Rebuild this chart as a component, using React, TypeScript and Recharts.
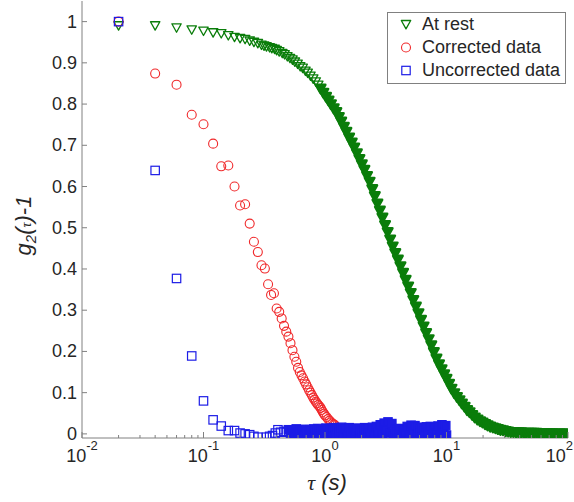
import React from 'react';
import { ScatterChart, Scatter, XAxis, YAxis, Legend } from 'recharts';

// tau (s) and g2(tau)-1
const greenTau = [
  0.02, 0.04, 0.06, 0.08, 0.1, 0.12, 0.14, 0.16, 0.18, 0.2, 0.22, 0.24, 0.26, 0.28,
  0.3, 0.315, 0.33, 0.35, 0.365, 0.385, 0.4, 0.42, 0.445, 0.465,
  0.49, 0.515, 0.54, 0.565, 0.595, 0.625, 0.655, 0.69, 0.72, 0.76,
  0.8, 0.84, 0.88, 0.92, 0.97, 1.02, 1.07, 1.12, 1.18, 1.24,
  1.3, 1.36, 1.43, 1.5, 1.58, 1.66, 1.74, 1.83, 1.92, 2.01,
  2.11, 2.22, 2.33, 2.45, 2.57, 2.7, 2.83, 2.97, 3.12, 3.28,
  3.44, 3.61, 3.79, 3.98, 4.18, 4.39, 4.61, 4.84, 5.08, 5.33,
  5.6, 5.88, 6.17, 6.48, 6.8, 7.14, 7.5, 7.87, 8.27, 8.68,
  9.11, 9.57, 10.0, 10.5, 11.0, 11.6, 12.2, 12.8, 13.4, 14.1,
  14.8, 15.5, 16.3, 17.1, 18.0, 18.9, 19.8, 20.8, 21.8, 22.9,
  24.1, 25.3, 26.5, 27.8, 29.2, 30.7, 32.2, 33.8, 35.5, 37.3,
  39.2, 41.1, 43.2, 45.3, 47.6, 50.0, 52.5, 55.1, 57.9, 60.8,
  63.8, 67.0, 70.4, 73.9, 77.6, 81.5, 85.5, 89.8, 94.3, 99.0,
];
const greenVal = [
  0.99, 0.99, 0.985, 0.98, 0.977, 0.973, 0.971, 0.966, 0.962, 0.959, 0.957, 0.953, 0.95, 0.947,
  0.943, 0.941, 0.939, 0.937, 0.935, 0.933, 0.93, 0.927, 0.923, 0.92,
  0.915, 0.911, 0.907, 0.902, 0.897, 0.891, 0.887, 0.88, 0.875, 0.868,
  0.861, 0.854, 0.846, 0.837, 0.827, 0.817, 0.808, 0.799, 0.789, 0.78,
  0.768, 0.757, 0.744, 0.732, 0.718, 0.706, 0.694, 0.68, 0.666, 0.653,
  0.64, 0.625, 0.611, 0.593, 0.576, 0.558, 0.541, 0.524, 0.506, 0.489,
  0.471, 0.454, 0.438, 0.422, 0.406, 0.39, 0.373, 0.357, 0.341, 0.324,
  0.308, 0.292, 0.276, 0.26, 0.244, 0.229, 0.214, 0.198, 0.182, 0.168,
  0.156, 0.144, 0.133, 0.121, 0.109, 0.098, 0.089, 0.081, 0.073, 0.065,
  0.057, 0.052, 0.045, 0.039, 0.034, 0.03, 0.027, 0.023, 0.02, 0.017,
  0.015, 0.013, 0.011, 0.009, 0.008, 0.006, 0.005, 0.004, 0.004, 0.003,
  0.003, 0.003, 0.002, 0.002, 0.002, 0.002, 0.002, 0.002, 0.001, 0.001,
  0.001, 0.001, 0.001, 0.001, 0.0, 0.0, 0.0, 0.0, 0.0, 0.0,
];

const redTau = [
  0.02, 0.04, 0.06, 0.08, 0.1, 0.12, 0.14, 0.16, 0.18, 0.2,
  0.22, 0.24, 0.26, 0.28, 0.3, 0.32, 0.34, 0.36, 0.38, 0.4,
  0.42, 0.44, 0.46, 0.48, 0.5, 0.52, 0.54, 0.56, 0.58, 0.6,
  0.62, 0.64, 0.66, 0.68, 0.7, 0.72, 0.74, 0.76, 0.78, 0.8,
  0.82, 0.84, 0.86, 0.88, 0.9, 0.92, 0.94, 0.96, 0.98, 1.0,
  1.03, 1.06, 1.09, 1.12, 1.15, 1.18, 1.21, 1.25, 1.3, 1.35,
  1.4, 1.45,
];
const redVal = [
  1.0, 0.874, 0.847, 0.774, 0.751, 0.704, 0.649, 0.651, 0.6, 0.554,
  0.557, 0.51, 0.466, 0.441, 0.409, 0.401, 0.363, 0.337, 0.341, 0.304,
  0.296, 0.28, 0.262, 0.248, 0.236, 0.22, 0.203, 0.187, 0.175, 0.16,
  0.15, 0.142, 0.135, 0.127, 0.12, 0.113, 0.106, 0.1, 0.094, 0.088,
  0.083, 0.078, 0.074, 0.07, 0.067, 0.063, 0.058, 0.053, 0.049, 0.045,
  0.041, 0.036, 0.032, 0.028, 0.025, 0.023, 0.021, 0.015, 0.008, 0.0,
  -0.005, -0.008,
];

const blueTau = [
  0.02, 0.04, 0.06, 0.08, 0.1, 0.12, 0.14, 0.16, 0.18, 0.2,
  0.22, 0.24, 0.26, 0.28, 0.33, 0.35, 0.37, 0.39, 0.41, 0.43,
  0.46, 0.48, 0.5, 0.52, 0.54, 0.56, 0.58, 0.6, 0.63, 0.66,
  0.69, 0.72, 0.75, 0.78, 0.81, 0.84, 0.87, 0.9, 0.94, 0.98,
  1.02, 1.06, 1.1, 1.14, 1.18, 1.22, 1.27, 1.32, 1.37, 1.42,
  1.47, 1.52, 1.58, 1.64, 1.7, 1.76, 1.83, 1.9, 1.97, 2.04,
  2.12, 2.2, 2.28, 2.37, 2.46, 2.55, 2.65, 2.75, 2.85, 2.96,
  3.07, 3.18, 3.3, 3.42, 3.55, 3.68, 3.82, 3.96, 4.11, 4.26,
  4.42, 4.58, 4.75, 4.93, 5.11, 5.3, 5.5, 5.7, 5.91, 6.13,
  6.36, 6.6, 6.84, 7.1, 7.36, 7.63, 7.92, 8.21, 8.52, 8.84,
  9.17, 9.51, 9.86, 10.0,
];
const blueVal = [
  1.0, 0.639, 0.377, 0.189, 0.08, 0.034, 0.019, 0.008, 0.008, 0.002,
  0.0, -0.002, -0.006, -0.008, -0.008, -0.006, -0.004, 0.002, 0.01, 0.004,
  0.006, 0.004, 0.01, 0.002, 0.008, -0.002, 0.012, 0.004, 0.009, -0.003,
  0.011, 0.003, 0.01, -0.004, 0.012, 0.002, 0.013, -0.002, 0.01, 0.004,
  0.014, -0.003, 0.012, 0.001, 0.015, -0.004, 0.012, 0.003, 0.016, -0.005,
  0.013, 0.0, 0.015, -0.004, 0.012, 0.004, 0.014, -0.005, 0.01, 0.002,
  0.015, -0.004, 0.013, 0.001, 0.016, -0.005, 0.018, 0.003, 0.022, -0.004,
  0.026, 0.008, 0.029, 0.002, 0.025, -0.005, 0.012, 0.003, 0.013, -0.004,
  0.011, 0.002, 0.018, -0.005, 0.021, 0.004, 0.02, -0.004, 0.015, 0.002,
  0.016, -0.005, 0.017, 0.003, 0.018, -0.004, 0.016, 0.001, 0.019, -0.005,
  0.022, 0.004, 0.02, -0.003,
];

const majorTicks = [0.01, 0.1, 1, 10, 100];
const majorExp = ['-2', '-1', '0', '1', '2'];
const xTicks = [
  0.01, 0.02, 0.03, 0.04, 0.05, 0.06, 0.07, 0.08, 0.09,
  0.1, 0.2, 0.3, 0.4, 0.5, 0.6, 0.7, 0.8, 0.9,
  1, 2, 3, 4, 5, 6, 7, 8, 9,
  10, 20, 30, 40, 50, 60, 70, 80, 90, 100,
];
const yTicks = [0, 0.1, 0.2, 0.3, 0.4, 0.5, 0.6, 0.7, 0.8, 0.9, 1];
const yTickLabels = ['0', '0.1', '0.2', '0.3', '0.4', '0.5', '0.6', '0.7', '0.8', '0.9', '1'];

const legendItems = [
  { name: 'At rest', color: '#0a7d0a', marker: 'triangle' },
  { name: 'Corrected data', color: '#f0282a', marker: 'circle' },
  { name: 'Uncorrected data', color: '#1c1ce6', marker: 'square' },
];

// where the overlapping markers merge into a solid band
const GREEN_SOLID_FROM = 0.9;
const BLUE_SOLID_FROM = 0.5;

const FONT = '"Liberation Sans", Arial, sans-serif';
const AXIS_COLOR = '#808080';
const TEXT_COLOR = '#262626';
const X_MARGIN = 24;
const Y_MARGIN = 4;

const toPoints = (tau: number[], val: number[]) => tau.map((t, i) => ({ x: t, y: val[i] }));
const greenData = toPoints(greenTau, greenVal);
const redData = toPoints(redTau, redVal);
const blueData = toPoints(blueTau, blueVal);

const triangle = (cx: number, cy: number, color: string, solid = false) => (
  <path
    d={`M${cx - 4.7},${cy - 4} L${cx + 4.7},${cy - 4} L${cx},${cy + 4.4} Z`}
    fill={solid ? color : 'none'}
    stroke={color}
    strokeWidth={solid ? 2.6 : 1.3}
    strokeLinejoin="round"
  />
);
const circle = (cx: number, cy: number, color: string) => (
  <circle cx={cx} cy={cy} r={4.5} fill="none" stroke={color} strokeWidth={1.1} />
);
const square = (cx: number, cy: number, color: string, solid = false) => (
  <rect
    x={cx - 4.2}
    y={cy - 4.2}
    width={8.4}
    height={8.4}
    fill={solid ? color : 'none'}
    stroke={color}
    strokeWidth={1.2}
  />
);
const markers: Record<string, (cx: number, cy: number, c: string) => React.ReactElement> = {
  triangle,
  circle,
  square,
};

function BottomTick(props: any) {
  const { x, y, payload } = props;
  const idx = majorTicks.indexOf(payload.value);
  const axisY = y - X_MARGIN;
  const last = idx === majorTicks.length - 1;
  return (
    <g>
      <line x1={x} x2={x} y1={axisY} y2={axisY - (idx >= 0 ? 6 : 3)} stroke={AXIS_COLOR} />
      {idx >= 0 && (
        <text
          x={last ? x + 5 : x}
          y={y}
          textAnchor={last ? 'end' : 'middle'}
          fontSize={18}
          fontFamily={FONT}
          fill={TEXT_COLOR}
        >
          <tspan>10</tspan>
          <tspan dy={-12} fontSize={13}>{majorExp[idx]}</tspan>
        </text>
      )}
    </g>
  );
}

function TopTick(props: any) {
  const { x, y, payload } = props;
  const major = majorTicks.indexOf(payload.value) >= 0;
  return <line x1={x} x2={x} y1={y} y2={y + (major ? 6 : 3)} stroke={AXIS_COLOR} />;
}

function LeftTick(props: any) {
  const { x, y, payload } = props;
  const idx = yTicks.indexOf(payload.value);
  const axisX = x + Y_MARGIN;
  return (
    <g>
      <line x1={axisX} x2={axisX + 5} y1={y} y2={y} stroke={AXIS_COLOR} />
      <text x={x - 1} y={y} dy={6} textAnchor="end" fontSize={18} fontFamily={FONT} fill={TEXT_COLOR}>
        {yTickLabels[idx]}
      </text>
    </g>
  );
}

function RightTick(props: any) {
  const { x, y } = props;
  return <line x1={x} x2={x - 5} y1={y} y2={y} stroke={AXIS_COLOR} />;
}

function XTitle(props: any) {
  const { viewBox } = props;
  const cx = viewBox.x + viewBox.width / 2 + 2;
  return (
    <text x={cx} y={viewBox.y + 52} textAnchor="middle" fontSize={22} fontStyle="italic" fontFamily={FONT} fill={TEXT_COLOR}>
      <tspan fontFamily='"Liberation Serif", serif'>τ</tspan>
      <tspan> (s)</tspan>
    </text>
  );
}

function YTitle(props: any) {
  const { viewBox } = props;
  const cx = viewBox.x + 31;
  const cy = viewBox.y + viewBox.height / 2 + 6;
  return (
    <text
      transform={`translate(${cx},${cy}) rotate(-90)`}
      textAnchor="middle"
      fontSize={22}
      fontStyle="italic"
      fontFamily={FONT}
      fill={TEXT_COLOR}
    >
      <tspan>g</tspan>
      <tspan dy={5} fontSize={15}>2</tspan>
      <tspan dy={-5}>(</tspan>
      <tspan fontSize={14} fontFamily='"Liberation Serif", serif'>τ</tspan>
      <tspan>)-1</tspan>
    </text>
  );
}

function LegendBox() {
  return (
    <div
      style={{
        width: 177,
        height: 70,
        border: `1px solid ${AXIS_COLOR}`,
        background: '#fff',
        fontFamily: FONT,
        fontSize: 18,
        color: TEXT_COLOR,
      }}
    >
      {legendItems.map((item) => (
        <div key={item.name} style={{ height: 23, display: 'flex', alignItems: 'center' }}>
          <svg width={34} height={23} style={{ display: 'block' }}>
            {markers[item.marker](18, 11.5, item.color)}
          </svg>
          <span style={{ lineHeight: '23px' }}>{item.name}</span>
        </div>
      ))}
    </div>
  );
}

export default function App() {
  return (
    <div style={{ position: 'absolute', left: 0, top: 0, width: 574, height: 502, background: '#fff' }}>
      <ScatterChart width={574} height={502} margin={{ top: 1, right: 6, bottom: 0, left: 0 }}>
        <XAxis
          dataKey="x"
          type="number"
          scale="log"
          domain={[0.01, 100]}
          allowDataOverflow
          ticks={xTicks}
          interval={0}
          height={64}
          tickSize={0}
          tickMargin={X_MARGIN}
          tick={BottomTick}
          stroke={AXIS_COLOR}
          label={{ content: XTitle } as any}
        />
        <XAxis
          xAxisId="top"
          orientation="top"
          type="number"
          scale="log"
          domain={[0.01, 100]}
          allowDataOverflow
          ticks={xTicks}
          interval={0}
          height={0}
          tickSize={0}
          tickMargin={0}
          tick={TopTick}
          stroke={AXIS_COLOR}
        />
        <YAxis
          dataKey="y"
          type="number"
          domain={[-0.01, 1.05]}
          allowDataOverflow
          ticks={yTicks}
          interval={0}
          width={82}
          tickSize={0}
          tickMargin={Y_MARGIN}
          tick={LeftTick}
          stroke={AXIS_COLOR}
          label={{ content: YTitle } as any}
        />
        <YAxis
          yAxisId="right"
          orientation="right"
          type="number"
          domain={[-0.01, 1.05]}
          allowDataOverflow
          ticks={yTicks}
          interval={0}
          width={0}
          tickSize={0}
          tickMargin={0}
          tick={RightTick}
          stroke={AXIS_COLOR}
        />
        <Legend
          layout="vertical"
          align="center"
          verticalAlign="middle"
          content={LegendBox}
          wrapperStyle={{ left: 387, top: 12, width: 179, height: 72 }}
        />
        <Scatter
          name="At rest"
          data={greenData}
          isAnimationActive={false}
          shape={(p: any) =>
            triangle(p.cx, p.cy, legendItems[0].color, p.payload.x >= GREEN_SOLID_FROM)
          }
        />
        <Scatter
          name="Corrected data"
          data={redData}
          isAnimationActive={false}
          shape={(p: any) => circle(p.cx, p.cy, legendItems[1].color)}
        />
        <Scatter
          name="Uncorrected data"
          data={blueData}
          isAnimationActive={false}
          shape={(p: any) =>
            square(p.cx, p.cy, legendItems[2].color, p.payload.x >= BLUE_SOLID_FROM)
          }
        />
      </ScatterChart>
    </div>
  );
}
